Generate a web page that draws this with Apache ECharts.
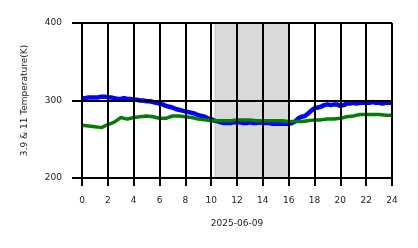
<!DOCTYPE html>
<html><head><meta charset="utf-8">
<script src="https://cdn.jsdelivr.net/npm/echarts@6/dist/echarts.min.js"></script>
<style>html,body{margin:0;padding:0;background:#fff}#c{width:418px;height:248px}</style>
</head><body><div id="c"></div>
<script>
const blueHours = [0,0.25,0.5,0.75,1,1.25,1.5,1.75,2,2.25,2.5,2.75,3,3.25,3.5,3.75,4,4.25,4.5,4.75,5,5.25,5.5,5.75,6,6.25,6.5,6.75,7,7.25,7.5,7.75,8,8.25,8.5,8.75,9,9.25,9.5,9.75,10,10.25,10.5,10.75,11,11.25,11.5,11.75,12,12.25,12.5,12.75,13,13.25,13.5,13.75,14,14.25,14.5,14.75,15,15.25,15.5,15.75,16,16.25,16.5,16.75,17,17.25,17.5,17.75,18,18.25,18.5,18.75,19,19.25,19.5,19.75,20,20.25,20.5,20.75,21,21.25,21.5,21.75,22,22.25,22.5,22.75,23,23.25,23.5,23.75,24];
const blueTemp = [303,303,304,304,304,304,305,305,304,304,303,302,302,303,302,302,301,301,300,300,299,299,298,297,296,295,293,292,291,289,288,287,286,285,284,283,281,280,279,277,276,274,273,272,271,271,271,272,272,272,271,271,272,271,271,272,271,271,271,270,270,270,270,270,270,271,273,277,279,280,283,287,290,291,292,294,295,294,295,295,293,294,296,296,297,296,297,297,297,297,298,297,297,296,297,297,297];
const greenHours = [0,0.5,1,1.5,2,2.5,3,3.5,4,4.5,5,5.5,6,6.5,7,7.5,8,8.5,9,9.5,10,10.5,11,11.5,12,12.5,13,13.5,14,14.5,15,15.5,16,16.5,17,17.5,18,18.5,19,19.5,20,20.5,21,21.5,22,22.5,23,23.5,24];
const greenTemp = [268,267,266,265,269,272,278,276,278,279,280,279,277,277,280,280,279,278,276,275,274,274,274,274,275,275,275,274,274,274,274,274,273,273,273,274,275,275,276,276,277,279,280,282,282,282,282,281,281];
const shadeStart = 10.3, shadeEnd = 16.0;
const xTitle = '2025-06-09';
const yTitle = '3.9 & 11 Temperature(K)';

const chart = echarts.init(document.getElementById('c'), null, {renderer:'canvas'});
const fontFam = 'DejaVu Sans';
chart.setOption({
  animation:false,
  backgroundColor:'#fff',
  grid:{left:82, top:23, width:310, height:155},
  xAxis:{type:'value', min:0, max:24, interval:2, z:10,
    name:xTitle, nameLocation:'middle', nameGap:41,
    nameTextStyle:{fontFamily:fontFam, fontSize:9, color:'#222'},
    axisLine:{show:true, lineStyle:{color:'#000', width:2}},
    axisTick:{show:true, length:8, lineStyle:{color:'#000', width:2}},
    axisLabel:{fontFamily:fontFam, fontSize:9, color:'#222', margin:18},
    splitLine:{show:true, lineStyle:{color:'#000', width:2}}
  },
  yAxis:{type:'value', min:200, max:400, interval:100, z:10,
    name:yTitle, nameLocation:'middle', nameGap:53, nameRotate:90,
    nameTextStyle:{fontFamily:fontFam, fontSize:9, color:'#222'},
    axisLine:{show:false},
    axisTick:{show:true, length:10, lineStyle:{color:'#000', width:2}},
    axisLabel:{fontFamily:fontFam, fontSize:9, color:'#222', margin:20},
    splitLine:{show:true, lineStyle:{color:'#000', width:2}}
  },
  series:[
    {type:'line', data:blueHours.map((h,i)=>[h,blueTemp[i]]), showSymbol:false,
     lineStyle:{color:'#0000ff', width:4.5}, itemStyle:{color:'#0000ff'}, z:3,
     markArea:{silent:true, z:1, itemStyle:{color:'#d9d9d9', borderColor:'#c4c4c4', borderWidth:1},
       data:[[{xAxis:shadeStart},{xAxis:shadeEnd}]]}
    },
    {type:'line', data:greenHours.map((h,i)=>[h,greenTemp[i]]), showSymbol:false,
     lineStyle:{color:'#008000', width:3.5}, itemStyle:{color:'#008000'}, z:4}
  ]
});
</script></body></html>
